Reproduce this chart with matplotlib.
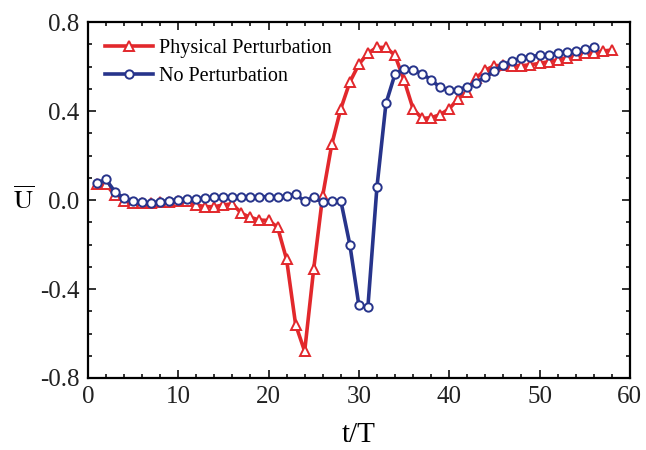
import numpy as np
import matplotlib
matplotlib.use("Agg")
import matplotlib.pyplot as plt
from matplotlib.ticker import MultipleLocator, FormatStrFormatter

# t/T values
t_phys = list(range(1, 59))
t_none = list(range(1, 57))

# Physical Perturbation (red, triangles)
u_phys = [0.072, 0.07, 0.022, -0.003, -0.015, -0.015, -0.015, -0.01, -0.007, -0.005,
          -0.005, -0.022, -0.03, -0.03, -0.022, -0.017, -0.06, -0.078, -0.09, -0.092,
          -0.122, -0.267, -0.56, -0.68, -0.31, 0.02, 0.25, 0.41, 0.53, 0.61,
          0.66, 0.686, 0.686, 0.65, 0.54, 0.41, 0.367, 0.37, 0.384, 0.41,
          0.455, 0.487, 0.55, 0.584, 0.604, 0.605, 0.602, 0.604, 0.608, 0.614,
          0.622, 0.63, 0.64, 0.65, 0.66, 0.662, 0.67, 0.674]

# No Perturbation (blue, circles)
u_none = [0.075, 0.093, 0.037, 0.008, -0.003, -0.01, -0.013, -0.008, -0.003, 0.002,
          0.003, 0.006, 0.009, 0.012, 0.014, 0.015, 0.015, 0.015, 0.015, 0.015,
          0.015, 0.017, 0.027, -0.006, 0.013, -0.01, -0.005, -0.003, -0.2, -0.473,
          -0.482, 0.057, 0.434, 0.566, 0.59, 0.584, 0.568, 0.54, 0.506, 0.494,
          0.494, 0.51, 0.527, 0.554, 0.58, 0.607, 0.625, 0.637, 0.645, 0.65,
          0.653, 0.66, 0.664, 0.67, 0.677, 0.686]

red = "#E2282C"
blue = "#27348B"

plt.rcParams["font.family"] = ["Liberation Serif", "DejaVu Serif"]
plt.rcParams["mathtext.fontset"] = "stix"

fig = plt.figure(figsize=(6.46, 4.5), dpi=100)
ax = fig.add_axes([0.136, 0.16, 0.839, 0.791])

ax.plot(t_phys, u_phys, color=red, linewidth=2.6, marker="^", markersize=7.5,
        markerfacecolor="white", markeredgecolor=red, markeredgewidth=1.4,
        label="Physical Perturbation", zorder=3)
ax.plot(t_none, u_none, color=blue, linewidth=2.6, marker="o", markersize=6,
        markerfacecolor="white", markeredgecolor=blue, markeredgewidth=1.4,
        label="No Perturbation", zorder=4)

ax.set_xlim(0, 60)
ax.set_ylim(-0.8, 0.8)
ax.xaxis.set_major_locator(MultipleLocator(10))
ax.xaxis.set_minor_locator(MultipleLocator(2))
ax.yaxis.set_major_locator(MultipleLocator(0.4))
ax.yaxis.set_minor_locator(MultipleLocator(0.1))
ax.yaxis.set_major_formatter(FormatStrFormatter("%.1f"))

for s in ax.spines.values():
    s.set_linewidth(1.6)
ax.tick_params(which="both", direction="in", top=True, right=True, width=1.3,
               labelsize=18, colors="#222222")
ax.tick_params(which="major", length=6, pad=6)
ax.tick_params(which="minor", length=3)

ax.set_xlabel("t/T", fontsize=21, labelpad=10)
ax.set_ylabel(r"$\overline{\mathrm{U}}$", fontsize=19, rotation=0, labelpad=12,
              va="center")

leg = ax.legend(loc="upper left", frameon=False, fontsize=14.5, handlelength=2.4,
                handletextpad=0.3, labelspacing=0.45, borderaxespad=0.45,
                bbox_to_anchor=(0.0, 1.0))

fig.savefig("out.png", dpi=100)
